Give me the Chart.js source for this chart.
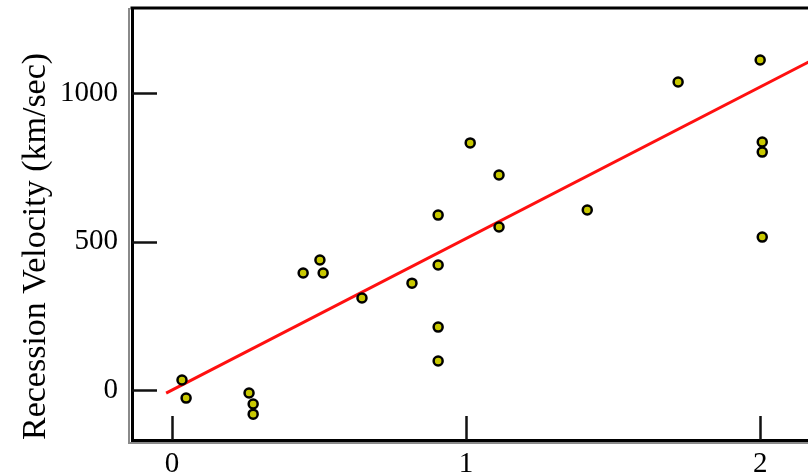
<!DOCTYPE html>
<html lang="en">
<head>
  <meta charset="UTF-8">
  <title>Recession Velocity vs Distance</title>
  <script src="https://cdn.jsdelivr.net/npm/chart.js"></script>
  <style>
    html,body{margin:0;padding:0;background:#fff;overflow:hidden;}
    #wrap{width:808px;height:475px;overflow:hidden;}
    canvas{display:block;}
  </style>
</head>
<body>
  <div id="wrap"><canvas id="hubble" width="840" height="495"></canvas></div>

  <script>
    /* ——— DATA ——— */
    const distances  = [0.034,0.048,0.262,0.276,0.276,0.446,0.503,0.514,0.646,0.816,0.905,0.905,0.905,0.905,1.014,1.112,1.112,1.412,1.721,2.000,2.007,2.007,2.007];
    const velocities = [34,-27,-10,-47,-81,394,438,394,310,360,589,421,212,98,832,724,549,606,1037,1111,835,801,515];

    // least-squares line
    const fitX = [-0.02, 2.25];
    const fitY = [-10, 1148];

    const xTicks = [0, 1, 2];
    const yTicks = [0, 500, 1000];

    const FONT = "'Liberation Serif', 'DejaVu Serif', serif";

    /* ——— frame + inward ticks ——— */
    const framePlugin = {
      id:'frame',
      afterDraw(chart){
        const {ctx, chartArea:a, scales:{x, y}} = chart;
        ctx.save();
        // soft grey edge next to the axes
        ctx.strokeStyle = '#8a8a8a';
        ctx.lineWidth = 2;
        ctx.beginPath();
        ctx.moveTo(a.left - 3, a.top); ctx.lineTo(a.left - 3, a.bottom + 3);
        ctx.lineTo(a.right, a.bottom + 3);
        ctx.stroke();
        // top border
        ctx.strokeStyle = '#000';
        ctx.lineWidth = 3;
        ctx.beginPath();
        ctx.moveTo(a.left - 1.5, a.top); ctx.lineTo(a.right, a.top);
        ctx.stroke();
        // tick marks pointing inside
        ctx.lineWidth = 2.5;
        ctx.strokeStyle = '#111';
        yTicks.forEach(v => {
          const py = Math.round(y.getPixelForValue(v)) + 0.5;
          ctx.beginPath(); ctx.moveTo(a.left, py); ctx.lineTo(a.left + 25, py); ctx.stroke();
        });
        xTicks.forEach(v => {
          const px = Math.round(x.getPixelForValue(v)) + 0.5;
          ctx.beginPath(); ctx.moveTo(px, a.bottom); ctx.lineTo(px, a.bottom - 24); ctx.stroke();
        });
        ctx.restore();
      }
    };

    new Chart(document.getElementById('hubble'), {
      data:{
        datasets:[
          {
            type:'scatter',
            label:'Galaxies',
            data:distances.map((d, i) => ({x:d, y:velocities[i]})),
            pointRadius:4.5,
            pointBorderWidth:2.5,
            pointBorderColor:'#000',
            pointBackgroundColor:'#c8c800'
          },
          {
            type:'line',
            label:'Fit',
            data:fitX.map((d, i) => ({x:d, y:fitY[i]})),
            borderColor:'#ff1010',
            borderWidth:3,
            pointRadius:0,
            fill:false
          }
        ]
      },
      options:{
        responsive:false,
        animation:false,
        layout:{padding:{top:8, right:21, left:0, bottom:0}},
        plugins:{legend:{display:false}, tooltip:{enabled:false}},
        scales:{
          x:{
            type:'linear',
            min:-0.136, max:2.2,
            afterFit(s){ s.height = 55; s.paddingLeft = 0; s.paddingRight = 0; },
            afterBuildTicks(s){ s.ticks = xTicks.map(v => ({value:v})); },
            grid:{display:false, drawTicks:false},
            border:{display:true, color:'#000', width:3},
            ticks:{padding:7, color:'#000', font:{family:FONT, size:29}, callback:v => String(v)}
          },
          y:{
            type:'linear',
            min:-168, max:1286,
            afterFit(s){ s.width = 132; s.paddingTop = 0; s.paddingBottom = 0; },
            afterBuildTicks(s){ s.ticks = yTicks.map(v => ({value:v})); },
            grid:{display:false, drawTicks:false},
            border:{display:true, color:'#000', width:3},
            ticks:{padding:14, color:'#000', font:{family:FONT, size:29}, callback:v => String(v)},
            title:{
              display:true,
              text:'Recession Velocity (km/sec)',
              align:'start',
              color:'#000',
              font:{family:FONT, size:34},
              padding:{top:16, bottom:0}
            }
          }
        }
      },
      plugins:[framePlugin]
    });
  </script>
</body>
</html>
